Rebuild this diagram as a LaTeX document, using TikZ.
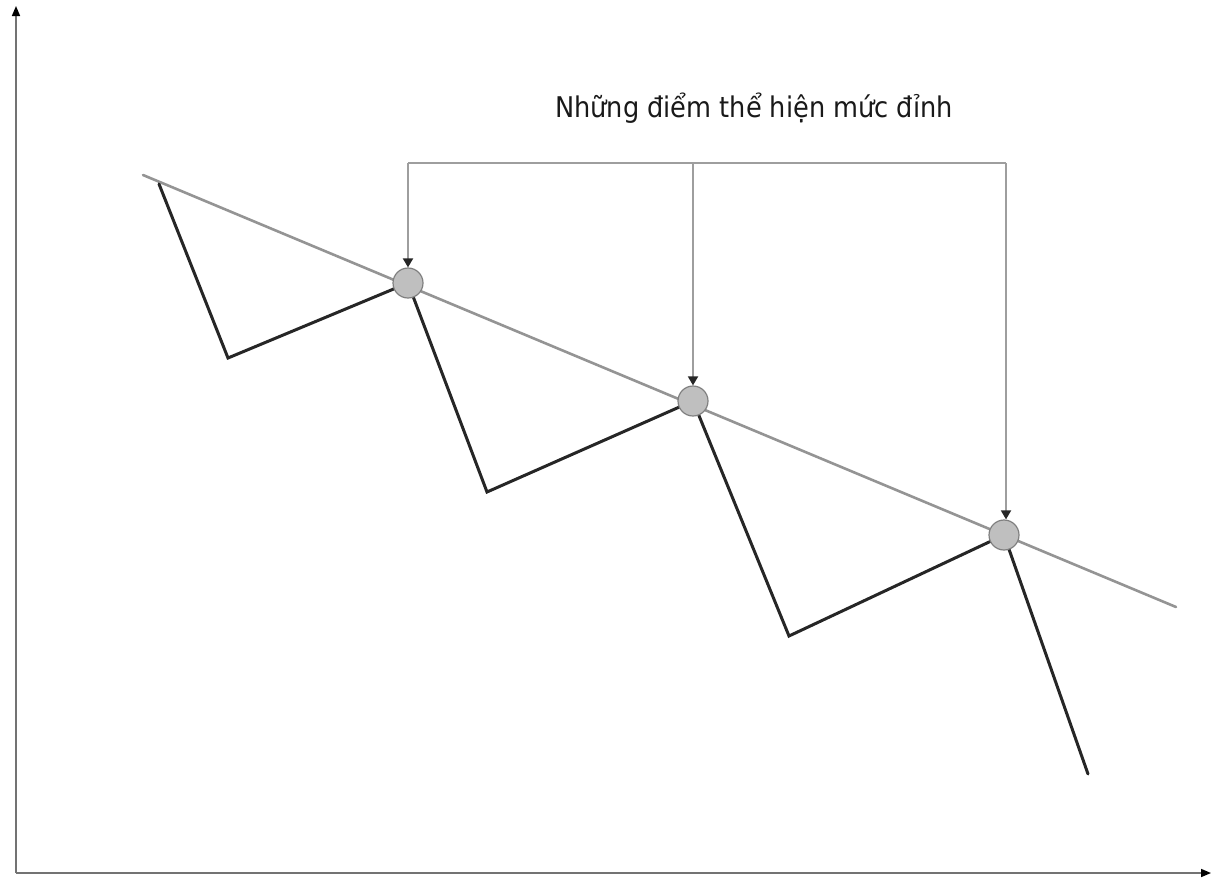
\documentclass[tikz,border=0pt]{standalone}
\usepackage{fontspec}
\setmainfont{DejaVu Sans Condensed}
\usetikzlibrary{arrows.meta}
\tikzset{
  axisline/.style={draw=black!55, line width=1.6pt, -{Triangle[length=10pt,width=8pt,color=black]}},
  trend/.style={draw=black!42, line width=2.6pt, line cap=round},
  zig/.style={draw=black!85, line width=3pt, line join=miter, line cap=round},
  peak/.style={circle, draw=black!50, line width=1.2pt, fill=black!25, minimum size=30pt, inner sep=0pt},
  pointer/.style={draw=black!38, line width=1.8pt, -{Triangle[length=9pt,width=10pt,color=black!85]}},
  hline/.style={draw=black!38, line width=1.8pt},
  label/.style={font=\fontsize{28.5}{34}\selectfont, text=black!90, inner sep=0pt}
}
\begin{document}
\begin{tikzpicture}[x=1pt,y=-1pt]
\useasboundingbox (0,0) rectangle (1212,881);
% axes
\coordinate (o) at (16,873);
\coordinate (ytop) at (16,6);
\coordinate (xend) at (1211,873);
\draw[axisline] (o) -- (ytop);
\draw[axisline] (o) -- (xend);
% trend line
\coordinate (t0) at (143,175);
\coordinate (t1) at (1176,607);
\draw[trend] (t0) -- (t1);
% zigzag
\coordinate (z0) at (159,184);
\coordinate (z1) at (228,358);
\coordinate (c1) at (408,283);
\coordinate (z2) at (487,492);
\coordinate (c2) at (693,401);
\coordinate (z3) at (789,636);
\coordinate (c3) at (1004,535);
\coordinate (z4) at (1088,774);
\draw[zig] (z0) -- (z1) -- (c1) -- (z2) -- (c2) -- (z3) -- (c3) -- (z4);
% peak points
\node[peak] (p1) at (c1) {};
\node[peak] (p2) at (c2) {};
\node[peak] (p3) at (c3) {};
% label and pointers
\node[label] (lab) at (754,108) {Những điểm thể hiện mức đỉnh};
\coordinate (h1) at (408,163);
\coordinate (h3) at (1006,163);
\draw[hline] (h1) -- (h3);
\draw[pointer] (h1) -- (p1.north);
\draw[pointer] (p2.north |- h1) -- (p2.north);
\draw[pointer] (h3) -- (h3 |- p3.north);
\end{tikzpicture}
\end{document}
